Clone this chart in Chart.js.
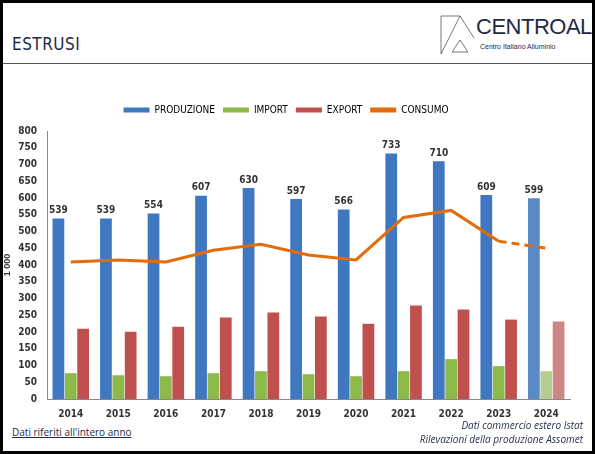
<!DOCTYPE html>
<html><head><meta charset="utf-8">
<script src="https://cdn.jsdelivr.net/npm/chart.js@4"></script>
<style>
body{margin:0;width:595px;height:454px;overflow:hidden;background:#fff;font-family:"DejaVu Sans Condensed","DejaVu Sans",sans-serif}
#frame{position:absolute;left:0;top:0;width:589px;height:448px;border:3px solid #000}
#title{position:absolute;left:12px;top:34px;font-size:17px;color:#1f2a44;letter-spacing:0.5px}
#hr{position:absolute;left:3px;top:63px;width:589px;height:1px;background:#555}
#logo{position:absolute;left:440px;top:14px;}
#logo .big{position:absolute;left:36px;top:0;font-size:22px;color:#1f2a44;font-family:"Liberation Sans",sans-serif;letter-spacing:-0.5px}
#logo .small{position:absolute;left:40px;top:29px;font-size:7px;color:#1f2a44;white-space:nowrap;font-family:"Liberation Sans",sans-serif}
#wrap{position:absolute;left:2px;top:97px;width:572px;height:324px}
#fl{position:absolute;left:12px;top:425px;font-size:10px;color:#1f2a44;text-decoration:underline;font-family:"Open Sans",sans-serif}
#fr{position:absolute;right:12px;top:418px;font-size:10px;color:#1f2a44;text-align:right;font-style:italic;line-height:14px;font-family:"Open Sans",sans-serif}
</style></head><body>
<div id="frame"></div>
<div id="title">ESTRUSI</div>
<div id="hr"></div>
<div id="logo">
<svg width="36" height="42" style="position:absolute;left:0;top:0"><path d="M1,40 L1,2 L20,2 L34,24 M1,40 L20,2" stroke="#555" fill="none" stroke-width="0.8"/><path d="M12,38 L20,26 L28,38 Z" stroke="#555" fill="none" stroke-width="0.8"/></svg>
<div class="big">CENTROAL</div><div class="small">Centro Italiano Alluminio</div></div>
<div id="wrap"><canvas id="c"></canvas></div>
<div id="fl">Dati riferiti all'intero anno</div>
<div id="fr">Dati commercio estero Istat<br>Rilevazioni della produzione Assomet</div>
<script>
const years=["2014","2015","2016","2017","2018","2019","2020","2021","2022","2023","2024"];
const produzione=[539,539,554,607,630,597,566,733,710,609,599];
const importV=[77,71,68,77,83,74,68,83,119,98,83];
const exportV=[210,201,216,243,258,246,225,279,267,237,231];
const consumo=[409,415,409,444,462,430,415,542,563,471,450];
const blue=years.map((y,i)=>i==10?'#5a88c4':'#3f78c0');
const green=years.map((y,i)=>i==10?'#b5cc8e':'#8db94a');
const red=years.map((y,i)=>i==10?'#cd8585':'#c0504d');
const lbl={id:'lbl',afterDatasetsDraw(ch){const m=ch.getDatasetMeta(1),x=ch.ctx;x.save();x.font='bold 10px "DejaVu Sans Condensed"';x.fillStyle='#333';x.textAlign='center';m.data.forEach((b,i)=>x.fillText(produzione[i],b.x,b.y-8));x.restore();}};
const lp={id:'lp',beforeInit(ch){const L=ch.legend;if(!L)return;const f=L.fit;L.fit=function(){f.call(this);this.height+=6;};}};
new Chart(document.getElementById('c'),{
data:{labels:years,datasets:[
{type:'line',label:'CONSUMO',data:consumo,borderColor:'#e36c0a',backgroundColor:'#e36c0a',borderWidth:3,pointRadius:0,tension:0,order:0,
 segment:{borderDash:c=>c.p1DataIndex==10?[8,5]:undefined}},
{type:'bar',label:'PRODUZIONE',data:produzione,backgroundColor:blue,order:1},
{type:'bar',label:'IMPORT',data:importV,backgroundColor:green,order:1},
{type:'bar',label:'EXPORT',data:exportV,backgroundColor:red,order:1}]},
options:{responsive:true,maintainAspectRatio:false,animation:false,
layout:{padding:{right:4,top:0}},
datasets:{bar:{categoryPercentage:0.78,barPercentage:0.95}},
plugins:{tooltip:{enabled:false},legend:{position:'top',labels:{boxWidth:26,boxHeight:5,font:{size:10,family:'DejaVu Sans Condensed'},color:'#333',padding:8,
 sort:(a,b)=>[1,2,3,0].indexOf(a.datasetIndex)-[1,2,3,0].indexOf(b.datasetIndex),
 generateLabels:ch=>ch.data.datasets.map((d,i)=>({text:d.label,fillStyle:d.type=='line'?'#e36c0a':(i==1?'#3f78c0':i==2?'#8db94a':'#c0504d'),strokeStyle:'transparent',lineWidth:0,datasetIndex:i}))}}},
scales:{x:{grid:{display:false},border:{color:'#888'},ticks:{padding:1,font:{size:10,weight:'bold',family:'DejaVu Sans Condensed'},color:'#333'}},
y:{min:0,max:800,afterFit:s=>{s.width=45},ticks:{padding:2,stepSize:50,font:{size:10,weight:'bold',family:'DejaVu Sans Condensed'},color:'#333'},grid:{display:false},border:{color:'#888'},
 title:{display:true,text:'1 000',padding:0,font:{size:9,weight:'bold'},color:'#333'}}}},
plugins:[lbl,lp]});
</script></body></html>
